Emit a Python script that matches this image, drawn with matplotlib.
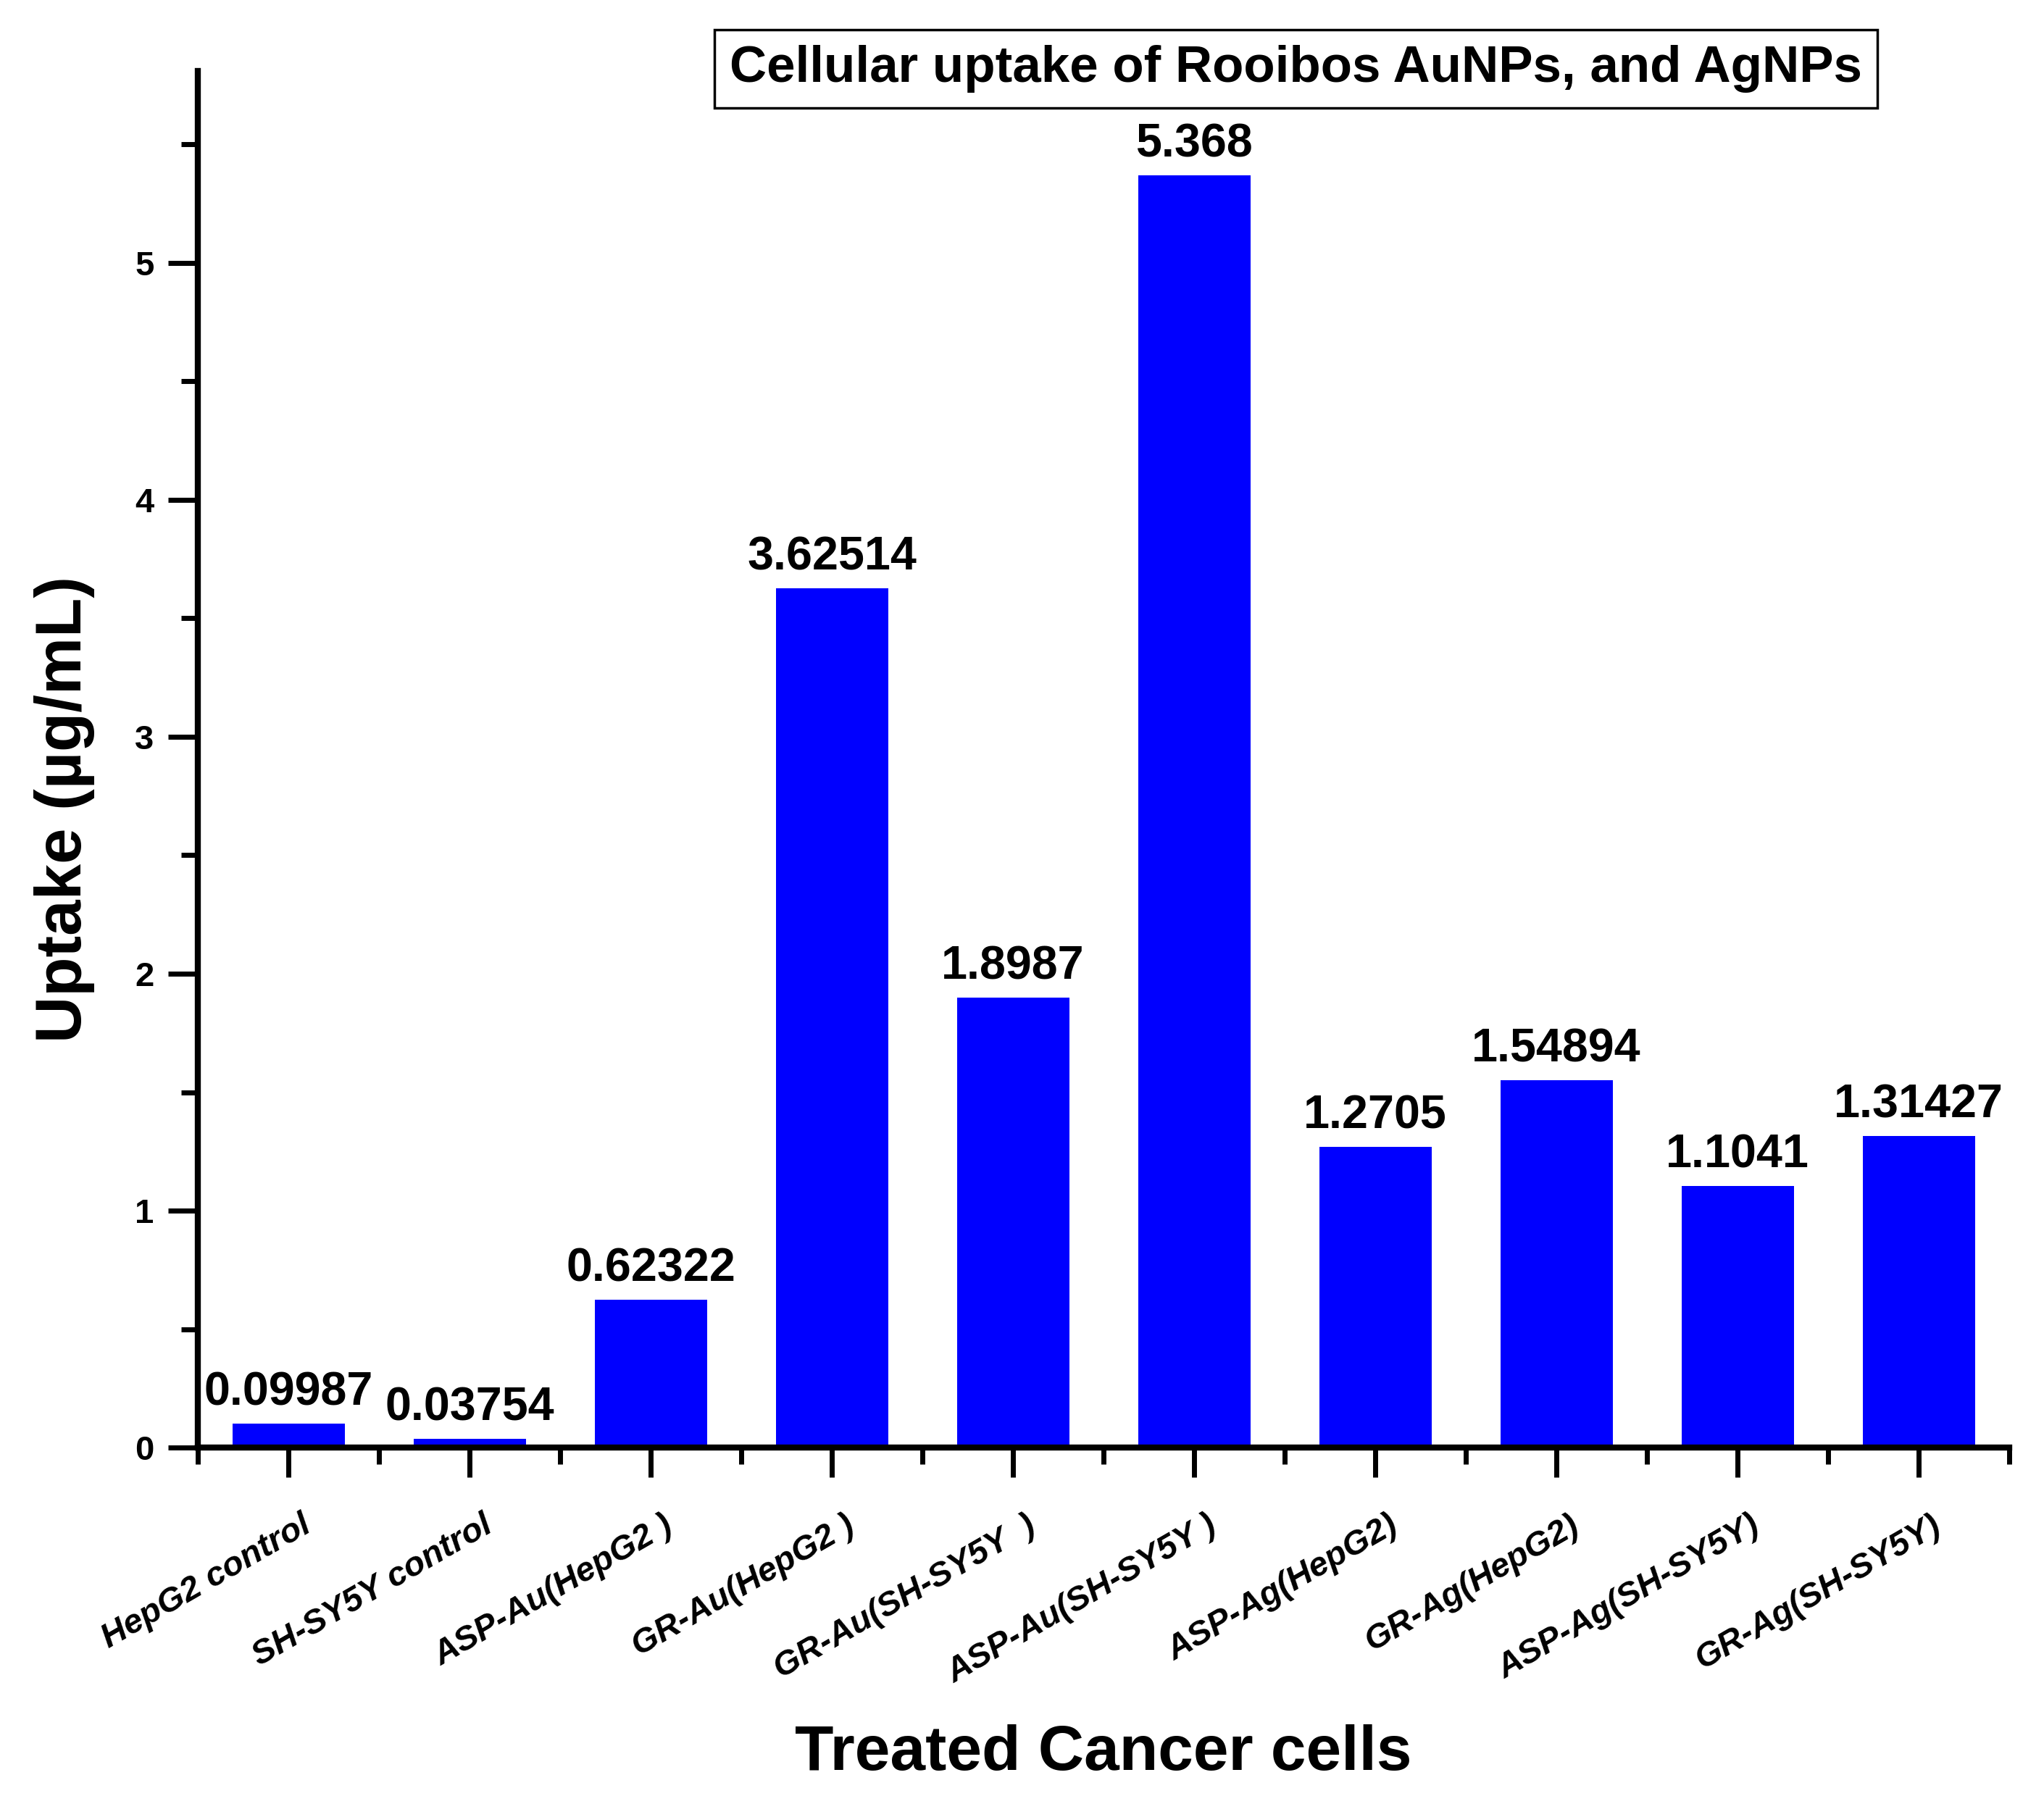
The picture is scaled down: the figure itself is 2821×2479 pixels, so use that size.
import matplotlib
matplotlib.use('Agg')
import matplotlib.pyplot as plt
import matplotlib.transforms as mtransforms
from matplotlib.ticker import FixedLocator, MultipleLocator

# data
categories = ['HepG2 control', 'SH-SY5Y control', 'ASP-Au(HepG2 )', 'GR-Au(HepG2 )',
              'GR-Au(SH-SY5Y  )', 'ASP-Au(SH-SY5Y )', 'ASP-Ag(HepG2)', 'GR-Ag(HepG2)',
              'ASP-Ag(SH-SY5Y)', 'GR-Ag(SH-SY5Y)']
uptake = [0.09987, 0.03754, 0.62322, 3.62514, 1.8987, 5.368, 1.2705, 1.54894, 1.1041, 1.31427]
value_labels = ['0.09987', '0.03754', '0.62322', '3.62514', '1.8987', '5.368',
                '1.2705', '1.54894', '1.1041', '1.31427']
y_ticks = [0, 1, 2, 3, 4, 5]

plt.rcParams['font.family'] = ['Liberation Sans', 'DejaVu Sans']
plt.rcParams['font.weight'] = 'bold'

fig = plt.figure(figsize=(28.21, 24.79), dpi=100)
ax = fig.add_axes([0.0968, 0.1940, 0.8862, 0.7665])

x = list(range(len(categories)))
bars = ax.bar(x, uptake, width=0.62, color='#0000FF', edgecolor='none')
ax.bar_label(bars, labels=value_labels, padding=9, fontsize=46.5, fontweight='bold')

ax.set_xlim(-0.5, len(categories) - 0.5)
ax.set_ylim(0, 5.81)

for s in ['top', 'right']:
    ax.spines[s].set_visible(False)
for s in ['left', 'bottom']:
    ax.spines[s].set_linewidth(6)

ax.set_yticks(y_ticks)
ax.set_yticklabels([str(v) for v in y_ticks], fontsize=34, fontweight='bold')
ax.yaxis.set_minor_locator(MultipleLocator(0.5))
ax.set_xticks(x)
ax.set_xticklabels(categories, rotation=30, ha='right', fontsize=34,
                   fontweight='bold', fontstyle='italic')
ax.xaxis.set_minor_locator(FixedLocator([i - 0.5 for i in range(len(categories) + 1)]))

ax.tick_params(axis='both', which='major', direction='out', length=29.5, width=5)
ax.tick_params(axis='both', which='minor', direction='out', length=16.5, width=5)
ax.tick_params(axis='y', which='major', pad=14)
ax.tick_params(axis='x', which='major', pad=32)

# labels sit a little to the right of their ticks in the original
shift = mtransforms.ScaledTranslation(0.39, 0, fig.dpi_scale_trans)
for lab in ax.get_xticklabels():
    lab.set_transform(lab.get_transform() + shift)

ax.set_ylabel('Uptake (\u00b5g/mL)', fontsize=64, fontweight='bold')
ax.yaxis.set_label_coords(-0.057, 0.4637)
ax.set_xlabel('Treated Cancer cells', fontsize=63, fontweight='bold', va='top')
ax.xaxis.set_label_coords(0.5, -0.201)

fig.text(0.634, 0.9617, 'Cellular uptake of Rooibos AuNPs, and AgNPs',
         ha='center', va='center', fontsize=51, fontweight='bold',
         bbox=dict(boxstyle='square,pad=0.3', fc='white', ec='black', lw=2.5))

fig.savefig('out.png', dpi=100)
